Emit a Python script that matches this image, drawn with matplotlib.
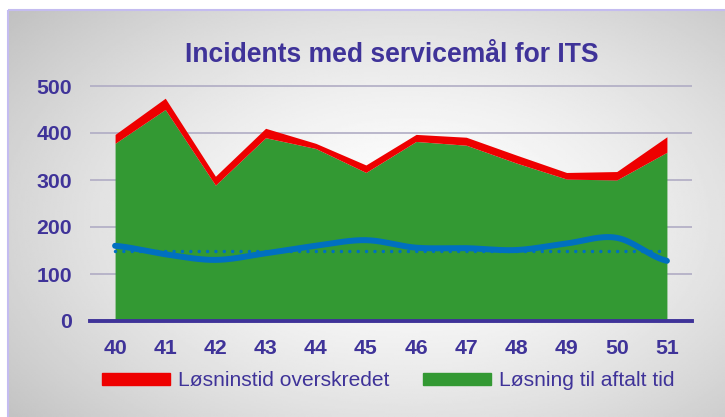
import numpy as np
import matplotlib
matplotlib.use("Agg")
import matplotlib.pyplot as plt
from matplotlib.patches import Patch, Rectangle

plt.rcParams['font.family'] = ['Liberation Sans', 'DejaVu Sans']

# data
weeks = ['40', '41', '42', '43', '44', '45', '46', '47', '48', '49', '50', '51']
on_time = [378, 450, 289, 390, 367, 316, 382, 374, 336, 302, 300, 359]
overdue = [19, 24, 19, 20, 11, 16, 15, 17, 17, 14, 18, 33]
trend = [160, 142, 130, 144, 160, 172, 156, 155, 151, 165, 177, 128]
target = 150

TXT = '#3f3399'
GREEN = '#339933'
RED = '#ee0000'
BLUE = '#0070c0'


def smooth(y, n=30):
    # Catmull-Rom, like Excel's smoothed line
    p = np.asarray(y, float)
    ext = np.concatenate([[p[0]], p, [p[-1]]])
    xs, ys = [], []
    t = np.linspace(0, 1, n, endpoint=False)
    for i in range(len(p) - 1):
        p0, p1, p2, p3 = ext[i:i + 4]
        v = 0.5 * (2 * p1 + (-p0 + p2) * t + (2 * p0 - 5 * p1 + 4 * p2 - p3) * t ** 2
                   + (-p0 + 3 * p1 - 3 * p2 + p3) * t ** 3)
        xs.append(i + t)
        ys.append(v)
    xs.append([len(p) - 1])
    ys.append([p[-1]])
    return np.concatenate(xs), np.concatenate(ys)


W, H = 725, 417
fig = plt.figure(figsize=(W / 100, H / 100), dpi=100)

# background gradient
bg = fig.add_axes([0, 0, 1, 1])
bg.set_xlim(0, W)
bg.set_ylim(H, 0)
bg.axis('off')
gx, gy = np.meshgrid(np.linspace(8, W, 400), np.linspace(10, H, 240))
r = np.sqrt(((gx - 410) / 420) ** 2 + ((gy - 220) / 260) ** 2)
r = np.clip(r / 1.3, 0, 1)
val = 1 - 0.26 * r ** 1.5
bg.imshow(val, cmap='gray', vmin=0, vmax=1, extent=(8, W, H, 10), aspect='auto', zorder=0)
bg.add_patch(Rectangle((8, 10), W, H, fill=False, edgecolor='#c4bcf0', lw=1.5, zorder=1))

# main axes
y0 = 321
ppu = 0.47
ytop = 520
ax = fig.add_axes([90 / W, (H - y0) / H, (692 - 90) / W, ytop * ppu / H])
ax.patch.set_alpha(0)
x = np.arange(len(weeks))
tot = np.array(on_time) + np.array(overdue)

ax.set_xlim(-0.5, len(weeks) - 0.5)
ax.set_ylim(0, ytop)
ax.set_yticks([0, 100, 200, 300, 400, 500])
ax.set_xticks(x)
ax.set_xticklabels(weeks)
for s in ax.spines.values():
    s.set_visible(False)
ax.yaxis.grid(True, color='#b0acc4', lw=1.2)
ax.set_axisbelow(True)
ax.tick_params(length=0, labelcolor=TXT, labelsize=15.3)
ax.tick_params(axis='y', pad=13)
ax.tick_params(axis='x', pad=13)
for lab in ax.get_xticklabels() + ax.get_yticklabels():
    lab.set_fontweight('bold')

ax.fill_between(x, 0, on_time, color=GREEN, lw=0, zorder=2)
ax.fill_between(x, on_time, tot, color=RED, lw=0, zorder=2)
ax.axhline(0, color=TXT, lw=2.8, zorder=3, clip_on=False)

ax.plot([0, len(weeks) - 1], [target, target], color=BLUE, lw=2.5,
        dashes=(0.01, 2.4), dash_capstyle='round', zorder=4)
sx, sy = smooth(trend)
ax.plot(sx, sy, color=BLUE, lw=4.3, solid_capstyle='round', zorder=5)

fig.text(392 / W, 1 - 55 / H, 'Incidents med servicemål for ITS', ha='center', va='center',
         fontsize=19.1, fontweight='bold', color=TXT)

handles = [Patch(color=RED, label='Løsninstid overskredet'),
           Patch(color=GREEN, label='Løsning til aftalt tid')]
leg = fig.legend(handles=handles, loc='center', bbox_to_anchor=(388 / W, 1 - 381 / H), ncol=2,
                 frameon=False, fontsize=15.1, handlelength=3.25, handleheight=0.5,
                 handletextpad=0.38, columnspacing=1.6)
for t in leg.get_texts():
    t.set_color(TXT)

fig.savefig('out.png', dpi=100)
